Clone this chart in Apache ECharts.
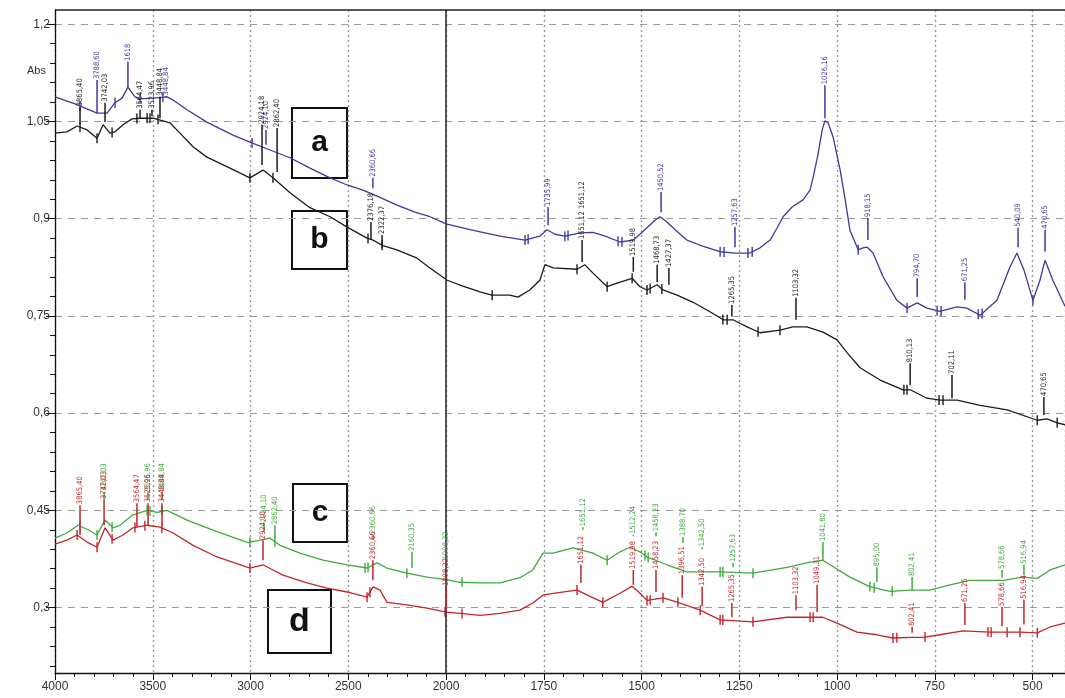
<!DOCTYPE html>
<html><head><meta charset="utf-8">
<script src="https://cdn.jsdelivr.net/npm/echarts@6/dist/echarts.min.js"></script>
<style>html,body{margin:0;padding:0;background:#fff}#c{width:1065px;height:698px}</style>
</head><body><div id="c"></div>
<script>
// ---------- DATA (wavenumber cm-1, absorbance) ----------
const xTickLabels = ['4000','3500','3000','2500','2000','1750','1500','1250','1000','750','500'];
const yTickValues = [0.3,0.45,0.6,0.75,0.9,1.05,1.2];
const yTickLabels = ['0,3','0,45','0,6','0,75','0,9','1,05','1,2'];

const curveA = [[4000,1.088],[3898,1.077],[3785,1.063],[3734,1.063],[3693,1.079],[3657,1.086],[3627,1.103],[3591,1.088],[3565,1.085],[3499,1.086],[3427,1.088],[3396,1.083],[3325,1.068],[3223,1.049],[3090,1.029],[3003,1.018],[2900,1.006],[2798,0.994],[2696,0.978],[2593,0.963],[2506,0.952],[2425,0.944],[2338,0.933],[2251,0.921],[2159,0.910],[2082,0.903],[2000,0.892],[1939,0.883],[1862,0.873],[1798,0.867],[1760,0.873],[1742,0.883],[1721,0.876],[1696,0.873],[1657,0.878],[1624,0.879],[1593,0.873],[1555,0.864],[1521,0.867],[1504,0.876],[1486,0.886],[1465,0.898],[1453,0.903],[1435,0.895],[1414,0.883],[1384,0.867],[1350,0.859],[1299,0.849],[1261,0.847],[1223,0.847],[1197,0.855],[1171,0.867],[1153,0.886],[1138,0.903],[1115,0.918],[1087,0.929],[1069,0.944],[1061,0.964],[1049,0.998],[1038,1.037],[1031,1.051],[1023,1.048],[1010,1.026],[992,0.975],[979,0.929],[967,0.882],[946,0.852],[934,0.855],[923,0.856],[908,0.847],[882,0.810],[847,0.774],[821,0.762],[795,0.770],[770,0.762],[737,0.757],[693,0.764],[668,0.762],[634,0.751],[591,0.774],[558,0.825],[540,0.847],[522,0.821],[499,0.774],[481,0.805],[468,0.836],[448,0.805],[417,0.765]];

const curveB = [[4000,1.032],[3939,1.034],[3887,1.043],[3836,1.037],[3785,1.024],[3754,1.045],[3719,1.032],[3693,1.034],[3652,1.045],[3606,1.054],[3565,1.055],[3499,1.055],[3448,1.051],[3412,1.048],[3361,1.032],[3294,1.011],[3223,0.995],[3105,0.978],[3003,0.963],[2936,0.975],[2885,0.963],[2798,0.940],[2696,0.917],[2593,0.903],[2506,0.887],[2404,0.870],[2373,0.867],[2327,0.859],[2251,0.852],[2148,0.839],[2082,0.824],[1997,0.805],[1957,0.796],[1913,0.787],[1883,0.782],[1837,0.782],[1816,0.779],[1786,0.790],[1760,0.805],[1747,0.829],[1726,0.824],[1665,0.822],[1645,0.829],[1624,0.816],[1588,0.795],[1555,0.802],[1524,0.808],[1504,0.795],[1486,0.790],[1460,0.798],[1445,0.790],[1409,0.782],[1368,0.771],[1324,0.756],[1291,0.744],[1266,0.744],[1230,0.733],[1197,0.724],[1146,0.728],[1113,0.733],[1077,0.733],[1036,0.725],[1000,0.713],[974,0.693],[941,0.670],[890,0.651],[831,0.636],[813,0.636],[770,0.623],[737,0.620],[693,0.620],[634,0.612],[565,0.605],[488,0.589],[463,0.591],[437,0.585],[417,0.582]];

const curveC = [[4000,0.407],[3939,0.415],[3882,0.427],[3831,0.420],[3785,0.412],[3744,0.435],[3703,0.423],[3668,0.427],[3601,0.443],[3529,0.450],[3478,0.447],[3427,0.450],[3325,0.435],[3171,0.417],[3013,0.400],[2951,0.404],[2900,0.407],[2849,0.396],[2747,0.384],[2629,0.373],[2506,0.366],[2404,0.361],[2353,0.369],[2302,0.361],[2200,0.353],[2097,0.347],[2000,0.343],[1964,0.339],[1913,0.338],[1862,0.338],[1811,0.346],[1778,0.358],[1752,0.384],[1726,0.384],[1675,0.392],[1624,0.384],[1588,0.373],[1555,0.386],[1530,0.393],[1504,0.386],[1486,0.378],[1435,0.366],[1384,0.355],[1333,0.355],[1299,0.355],[1215,0.353],[1128,0.362],[1069,0.370],[1036,0.373],[1018,0.366],[967,0.347],[915,0.332],[864,0.325],[813,0.327],[762,0.327],[711,0.335],[660,0.342],[627,0.342],[575,0.342],[524,0.347],[488,0.345],[455,0.358],[417,0.366]];

const curveD = [[4000,0.398],[3939,0.404],[3887,0.412],[3836,0.401],[3785,0.393],[3744,0.423],[3703,0.404],[3652,0.412],[3601,0.423],[3529,0.427],[3463,0.424],[3396,0.415],[3294,0.396],[3171,0.378],[3003,0.361],[2936,0.366],[2885,0.358],[2834,0.350],[2711,0.338],[2609,0.330],[2506,0.324],[2404,0.316],[2373,0.332],[2338,0.327],[2302,0.308],[2200,0.304],[2097,0.299],[2000,0.293],[1964,0.291],[1913,0.288],[1862,0.291],[1811,0.296],[1778,0.307],[1752,0.319],[1726,0.322],[1665,0.327],[1599,0.308],[1555,0.322],[1524,0.333],[1504,0.322],[1486,0.311],[1445,0.315],[1407,0.308],[1350,0.296],[1299,0.281],[1215,0.278],[1128,0.285],[1069,0.285],[1036,0.285],[1000,0.276],[949,0.262],[898,0.258],[857,0.253],[813,0.254],[780,0.254],[737,0.258],[678,0.264],[609,0.262],[565,0.262],[532,0.262],[488,0.261],[455,0.270],[417,0.276]];

// peak annotations: [wavenumber, text, label-start absorbance, stem-end absorbance]
const peaksA = [[3785,'3788,60',1.114,1.063],[3627,'1618',1.142,1.103],[3432,'3448,84',1.089,1.087],[2921,'2924,10',1.037,1.014],[2374,'2360,66',0.963,0.947],[1739,'1735,99',0.918,0.890],[1450,'1450,52',0.941,0.910],[1261,'1257,63',0.887,0.856],[1031,'1026,16',1.106,1.055],[921,'918,15',0.901,0.867],[795,'794,70',0.808,0.779],[673,'671,25',0.802,0.775],[537,'540,09',0.886,0.856],[468,'470,65',0.883,0.849]];
const peaksB = [[3872,'3865,40',1.072,1.046],[3744,'3742,03',1.079,1.049],[3565,'3564,47',1.068,1.055],[3504,'3523,96',1.068,1.058],[3463,'3448,84',1.088,1.055],[2941,'2924,18',1.045,0.983],[2864,'2862,40',1.040,0.972],[2384,'2376,18',0.895,0.867],[2327,'2322,37',0.875,0.855],[1652,'1651,12 1651,12',0.867,0.833],[1521,'1519,98',0.841,0.818],[1460,'1468,73',0.829,0.802],[1430,'1427,37',0.824,0.798],[1269,'1265,35',0.767,0.750],[1105,'1103,32',0.778,0.744],[813,'810,13',0.677,0.643],[706,'702,11',0.659,0.623],[471,'470,65',0.625,0.597]];
const peaksC = [[3749,'3742,03',0.478,0.466],[3524,'3525,96',0.478,0.466],[3453,'3448,84',0.478,0.466],[2931,'2924,10',0.430,0.416],[2875,'2862,40',0.427,0.407],[2372,'2360,66',0.412,0.404],[2174,'2160,35',0.386,0.361],[2000,'1998,32',0.373,0.372],[1650,'1651,12',0.424,0.420],[1521,'1512,24',0.412,0.410],[1463,'1458,23',0.416,0.410],[1394,'1388,70',0.409,0.400],[1345,'1342,50',0.393,0.390],[1266,'1257,63',0.369,0.362],[1036,'1041,80',0.401,0.373],[898,'895,00',0.362,0.339],[808,'802,41',0.347,0.327],[578,'578,66',0.358,0.346],[522,'516,94',0.366,0.350]];
const peaksD = [[3872,'3865,40',0.458,0.412],[3749,'3742,03',0.466,0.427],[3581,'3564,47',0.461,0.424],[3524,'3525,96',0.461,0.427],[3453,'3448,84',0.461,0.427],[2936,'2924,10',0.404,0.373],[2374,'2360,66',0.373,0.342],[2000,'1998,32',0.332,0.296],[1655,'1651,12',0.366,0.338],[1521,'1519,98',0.358,0.335],[1463,'1458,23',0.358,0.324],[1396,'1396,51',0.350,0.315],[1345,'1342,50',0.332,0.302],[1269,'1265,35',0.307,0.285],[1105,'1103,32',0.319,0.296],[1051,'1049,31',0.335,0.293],[808,'802,41',0.270,0.261],[673,'671,25',0.307,0.273],[578,'578,66',0.301,0.271],[522,'516,94',0.312,0.274]];

// peak-pick cursor marks on each curve (wavenumbers)
const marksA = [3872,3693,3565,3448,2992,1798,1790,1696,1688,1560,1550,1299,1289,1228,1217,946,821,744,734,639,629,499];
const marksB = [3872,3785,3708,3581,3529,3514,3473,3003,2885,2399,2327,1882,1665,1588,1524,1486,1478,1448,1292,1281,1202,1146,829,821,739,729,488,437];
const marksC = [3872,3785,3708,3529,3514,3453,3003,2875,2414,2399,2200,1959,1588,1491,1483,1299,1292,1215,916,905,859];
const marksD = [3887,3785,3708,3591,3540,3453,3003,2404,2389,2005,1959,1665,1599,1486,1478,1445,1407,1350,1299,1292,1215,1069,1061,857,847,775,614,606,565,532,488];

// ---------- helpers ----------
// FTIR scale change at 2000 cm-1 : 500 cm-1 per unit above, 250 cm-1 per unit below
function toT(w){ return w >= 2000 ? (4000 - w) / 500 : 4 + (2000 - w) / 250; }
function interp(curve, w){
  for (let i = 0; i < curve.length - 1; i++){
    const a = curve[i], b = curve[i+1];
    if (w <= a[0] && w >= b[0]) { const f = (a[0]-w)/(a[0]-b[0]); return a[1] + f*(b[1]-a[1]); }
  }
  return curve[curve.length-1][1];
}
const COL = {a:'#3b3b9e', b:'#1c1c1c', c:'#3faa3f', d:'#c1262c'};
const labelFont = '7.5px "DejaVu Sans Condensed","DejaVu Sans",sans-serif';

function lineSeries(curve, color){
  return {type:'line', data: curve.map(p => [toT(p[0]), p[1]]), showSymbol:false, symbol:'none',
    lineStyle:{color, width:1.3}, itemStyle:{color}, silent:true, animation:false, z:3};
}
function peakSeries(peaks, color){
  return {type:'custom', silent:true, animation:false, z:5, clip:false,
    data: peaks.map(p => [toT(p[0]), p[2], p[3]]),
    encode:{x:0, y:[1,2]},
    renderItem(params, api){
      const t = api.value(0);
      const p1 = api.coord([t, api.value(1)]), p2 = api.coord([t, api.value(2)]);
      return {type:'group', children:[
        {type:'line', shape:{x1:p1[0], y1:p1[1], x2:p2[0], y2:p2[1]}, style:{stroke:color, lineWidth:1.5}},
        {type:'text', x:p1[0], y:p1[1]-1, rotation:Math.PI/2,
          style:{text:peaks[params.dataIndex][1], fill:color, font:labelFont, align:'left', verticalAlign:'middle'}}
      ]};
    }};
}
function markSeries(marks, curve, color){
  return {type:'custom', silent:true, animation:false, z:4,
    data: marks.map(w => [toT(w), interp(curve, w)]),
    encode:{x:0, y:1},
    renderItem(params, api){
      const p = api.coord([api.value(0), api.value(1)]);
      return {type:'line', shape:{x1:p[0], y1:p[1]-5, x2:p[0], y2:p[1]+5}, style:{stroke:color, lineWidth:1.4}};
    }};
}
const yMinor = [];
for (let k = 7; k <= 40; k++){ if (k % 5 !== 0) yMinor.push(+(k*0.03).toFixed(2)); }

const chart = echarts.init(document.getElementById('c'), null, {renderer:'canvas'});
const box = (x,y,w,h,txt,fs) => ({type:'group', left:x, top:y, children:[
  {type:'rect', shape:{x:0,y:0,width:w,height:h}, style:{fill:'#fff', stroke:'#111', lineWidth:2}},
  {type:'text', x:w/2, y:h/2, style:{text:txt, font:'bold '+fs+'px "Liberation Sans",Arial,sans-serif', fill:'#111', align:'center', verticalAlign:'middle'}}
], z:10});

chart.setOption({
  backgroundColor:'#fff',
  animation:false,
  grid:{left:55, right:0, top:10, bottom:25, containLabel:false},
  xAxis:{type:'value', min:0, max:toT(417), interval:1,
    axisLine:{show:true, onZero:false, lineStyle:{color:'#111', width:1.3}},
    axisTick:{show:true, length:7, lineStyle:{color:'#111'}},
    minorTick:{show:true, splitNumber:5, length:4, lineStyle:{color:'#111'}},
    axisLabel:{showMaxLabel:false, color:'#333', fontSize:12, margin:8, fontFamily:'"Liberation Sans",Arial,sans-serif',
      formatter:v => (Math.abs(v - Math.round(v)) < 1e-6 && xTickLabels[Math.round(v)]) ? xTickLabels[Math.round(v)] : ''},
    splitLine:{show:true, lineStyle:{color:'#9a9a9a', type:[2,3], width:1.4}}
  },
  yAxis:[
    {type:'value', min:0.199, max:1.222,
      axisLine:{show:true, onZero:false, lineStyle:{color:'#111', width:1.3}},
      axisTick:{show:true, length:9, customValues:yTickValues, lineStyle:{color:'#111'}},
      axisLabel:{customValues:yTickValues, color:'#333', fontSize:12, margin:5, fontFamily:'"Liberation Sans",Arial,sans-serif',
        formatter:v => { const i = yTickValues.findIndex(x => Math.abs(x - v) < 1e-6); return i >= 0 ? yTickLabels[i] : ''; }},
      splitLine:{show:true, lineStyle:{color:'#9a9a9a', type:[7,6], width:1.2}}
    },
    {type:'value', min:0.199, max:1.222, position:'left',
      axisLine:{show:false}, axisLabel:{show:false}, splitLine:{show:false},
      axisTick:{show:true, length:5, customValues:yMinor, lineStyle:{color:'#111'}}
    }
  ],
  series:[
    Object.assign(lineSeries(curveA, COL.a), {markLine:{silent:true, symbol:'none', label:{show:false},
      lineStyle:{color:'#333', width:1.6, type:'solid'}, data:[{xAxis:4}]}}),
    lineSeries(curveB, COL.b),
    lineSeries(curveC, COL.c),
    lineSeries(curveD, COL.d),
    markSeries(marksA, curveA, COL.a),
    markSeries(marksB, curveB, COL.b),
    markSeries(marksC, curveC, COL.c),
    markSeries(marksD, curveD, COL.d),
    peakSeries(peaksA, COL.a),
    peakSeries(peaksB, COL.b),
    peakSeries(peaksC, COL.c),
    peakSeries(peaksD, COL.d)
  ],
  graphic:[
    {type:'line', shape:{x1:55, y1:10, x2:1065, y2:10}, style:{stroke:'#222', lineWidth:1.5}, z:9},
    {type:'text', left:27, top:65, style:{text:'Abs', font:'11px "Liberation Sans",Arial,sans-serif', fill:'#333'}},
    box(291,107,55,70,'a',30),
    box(291,210,55,58,'b',30),
    box(292,483,54,58,'c',30),
    box(267,589,63,63,'d',34)
  ]
});
</script></body></html>
